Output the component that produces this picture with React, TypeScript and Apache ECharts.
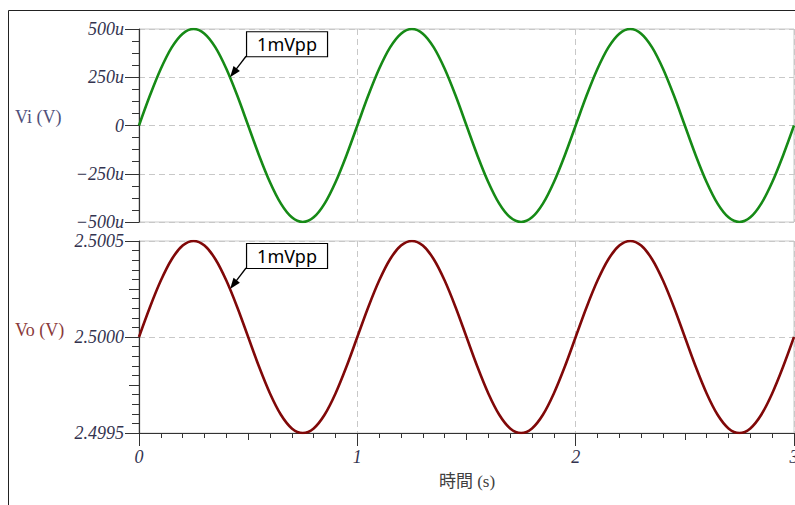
import React, { useEffect, useRef } from "react";
import * as echarts from "echarts";

// time (s)
const times = [
  0, 0.05, 0.1, 0.15, 0.2, 0.25, 0.3, 0.35, 0.4, 0.45,
  0.5, 0.55, 0.6, 0.65, 0.7, 0.75, 0.8, 0.85, 0.9, 0.95,
  1, 1.05, 1.1, 1.15, 1.2, 1.25, 1.3, 1.35, 1.4, 1.45,
  1.5, 1.55, 1.6, 1.65, 1.7, 1.75, 1.8, 1.85, 1.9, 1.95,
  2, 2.05, 2.1, 2.15, 2.2, 2.25, 2.3, 2.35, 2.4, 2.45,
  2.5, 2.55, 2.6, 2.65, 2.7, 2.75, 2.8, 2.85, 2.9, 2.95,
  3,
];

// Vi in microvolts
const viMicro = [
  0, 155, 294, 405, 476, 500, 476, 405, 294, 155,
  0, -155, -294, -405, -476, -500, -476, -405, -294, -155,
  0, 155, 294, 405, 476, 500, 476, 405, 294, 155,
  0, -155, -294, -405, -476, -500, -476, -405, -294, -155,
  0, 155, 294, 405, 476, 500, 476, 405, 294, 155,
  0, -155, -294, -405, -476, -500, -476, -405, -294, -155,
  0,
];

// Vo in volts
const voVolts = [
  2.5, 2.500155, 2.500294, 2.500405, 2.500476, 2.5005, 2.500476, 2.500405, 2.500294, 2.500155,
  2.5, 2.499845, 2.499706, 2.499595, 2.499524, 2.4995, 2.499524, 2.499595, 2.499706, 2.499845,
  2.5, 2.500155, 2.500294, 2.500405, 2.500476, 2.5005, 2.500476, 2.500405, 2.500294, 2.500155,
  2.5, 2.499845, 2.499706, 2.499595, 2.499524, 2.4995, 2.499524, 2.499595, 2.499706, 2.499845,
  2.5, 2.500155, 2.500294, 2.500405, 2.500476, 2.5005, 2.500476, 2.500405, 2.500294, 2.500155,
  2.5, 2.499845, 2.499706, 2.499595, 2.499524, 2.4995, 2.499524, 2.499595, 2.499706, 2.499845,
  2.5,
];

const xTicks = [0, 1, 2, 3];
const viTicks = [-500, -250, 0, 250, 500];
const voTicks = [2.4995, 2.5, 2.5005];

const annotationText = "1mVpp";
const viAnnotPoint = [0.417, 250];
const voAnnotPoint = [0.417, 2.50025];

const GREEN = "#168a16";
const RED = "#800808";
const GRID_GRAY = "#c8c8c8";
const AXIS = "#333333";
const LABEL = "#33334f";
const SERIF = "'Liberation Serif', 'DejaVu Serif', serif";

export default function App() {
  const ref = useRef<HTMLDivElement>(null);

  useEffect(() => {
    if (!ref.current) return;
    const chart = echarts.init(ref.current, undefined, { renderer: "svg" });

    const splitLine = {
      show: true,
      lineStyle: { color: GRID_GRAY, type: [6, 4] as any, width: 1 },
    };
    const labelFont = {
      fontFamily: SERIF,
      fontStyle: "italic" as const,
      fontSize: 18,
      color: LABEL,
    };

    const option: any = {
      animation: false,
      backgroundColor: "#ffffff",
      grid: [
        {
          left: 139, top: 29, width: 655, height: 193,
          show: true, borderColor: GRID_GRAY, borderWidth: 1,
          outerBoundsMode: "none", containLabel: false,
        },
        {
          left: 139, top: 241, width: 655, height: 192,
          show: true, borderColor: GRID_GRAY, borderWidth: 1,
          outerBoundsMode: "none", containLabel: false,
        },
      ],
      xAxis: [
        {
          type: "value", gridIndex: 0, position: "bottom",
          min: xTicks[0], max: xTicks[xTicks.length - 1], interval: 1,
          axisLine: { show: false }, axisTick: { show: false }, axisLabel: { show: false },
          splitLine,
        },
        {
          type: "value", gridIndex: 1, position: "bottom",
          min: xTicks[0], max: xTicks[xTicks.length - 1], interval: 1,
          axisLine: { show: true, onZero: false, lineStyle: { color: AXIS, width: 1.2 } },
          axisTick: { show: true, length: 13, lineStyle: { color: AXIS } },
          minorTick: { show: true, splitNumber: 10, length: 5, lineStyle: { color: AXIS } },
          axisLabel: { ...labelFont, margin: 15, formatter: (v: number) => String(v) },
          splitLine,
          z: 5,
        },
        {
          type: "value", gridIndex: 1, position: "bottom",
          min: xTicks[0], max: xTicks[xTicks.length - 1], interval: 0.5,
          axisLine: { show: false, onZero: false },
          axisTick: { show: true, length: 7, lineStyle: { color: AXIS } },
          axisLabel: { show: false }, splitLine: { show: false },
        },
      ],
      yAxis: [
        {
          type: "value", gridIndex: 0, position: "left",
          min: viTicks[0], max: viTicks[viTicks.length - 1], interval: 250,
          axisLine: { show: true, onZero: false, lineStyle: { color: AXIS, width: 1.2 } },
          axisTick: { show: true, length: 14, lineStyle: { color: AXIS } },
          minorTick: { show: true, splitNumber: 4, length: 7, lineStyle: { color: AXIS } },
          axisLabel: {
            ...labelFont, margin: 15,
            formatter: (v: number) =>
              v === 0 ? "0" : (v < 0 ? "\u2212" + String(-v) : String(v)) + "u",
          },
          splitLine,
          z: 5,
        },
        {
          type: "value", gridIndex: 1, position: "left",
          min: voTicks[0], max: voTicks[voTicks.length - 1], interval: 0.0005,
          axisLine: { show: true, onZero: false, lineStyle: { color: AXIS, width: 1.2 } },
          axisTick: { show: true, length: 14, lineStyle: { color: AXIS } },
          minorTick: { show: true, splitNumber: 10, length: 7, lineStyle: { color: AXIS } },
          axisLabel: { ...labelFont, margin: 15, formatter: (v: number) => v.toFixed(4) },
          splitLine,
          z: 5,
        },
        {
          type: "value", gridIndex: 1, position: "left",
          min: voTicks[0], max: voTicks[voTicks.length - 1], interval: 0.00025,
          axisLine: { show: false, onZero: false },
          axisTick: { show: true, length: 10, lineStyle: { color: AXIS } },
          axisLabel: { show: false }, splitLine: { show: false },
        },
      ],
      series: [
        {
          type: "line", name: "Vi", xAxisIndex: 0, yAxisIndex: 0,
          data: times.map((t, i) => [t, viMicro[i]]),
          showSymbol: false, smooth: 0.35,
          lineStyle: { color: GREEN, width: 2.6 },
          z: 10,
        },
        {
          type: "line", name: "Vo", xAxisIndex: 1, yAxisIndex: 1,
          data: times.map((t, i) => [t, voVolts[i]]),
          showSymbol: false, smooth: 0.35,
          lineStyle: { color: RED, width: 2.6 },
          z: 10,
        },
      ],
    };

    chart.setOption(option);

    const makeAnnot = (p: number[]) => {
      const dx = 16, dy = -21;
      const bx = p[0] + dx, by = p[1] + dy;
      const len = Math.hypot(dx, dy);
      const ux = dx / len, uy = dy / len;
      const nx = -uy, ny = ux;
      const hl = 11, hw = 4;
      return [
        {
          type: "line", z: 20,
          shape: { x1: bx, y1: by, x2: p[0] + ux * 8, y2: p[1] + uy * 8 },
          style: { stroke: "#000", lineWidth: 1.3 },
        },
        {
          type: "polygon", z: 20,
          shape: {
            points: [
              [p[0], p[1]],
              [p[0] + ux * hl + nx * hw, p[1] + uy * hl + ny * hw],
              [p[0] + ux * hl - nx * hw, p[1] + uy * hl - ny * hw],
            ],
          },
          style: { fill: "#000" },
        },
        {
          type: "rect", z: 20,
          shape: { x: bx + 0.5, y: by - 25 + 0.5, width: 81, height: 25 },
          style: { fill: "#fff", stroke: "#000", lineWidth: 1.2 },
        },
        {
          type: "text", z: 21,
          x: bx + 41, y: by - 12,
          style: {
            text: annotationText, fill: "#000", fontSize: 18,
            fontFamily: "'Noto Sans', 'Liberation Sans', sans-serif",
            align: "center", verticalAlign: "middle",
          },
        },
      ];
    };

    const pVi = chart.convertToPixel({ xAxisIndex: 0, yAxisIndex: 0 } as any, viAnnotPoint) as number[];
    const pVo = chart.convertToPixel({ xAxisIndex: 1, yAxisIndex: 1 } as any, voAnnotPoint) as number[];

    chart.setOption({
      graphic: [
        {
          type: "line",
          shape: { x1: 8.5, y1: 10.5, x2: 795, y2: 10.5 },
          style: { stroke: "#222", lineWidth: 1 },
        },
        {
          type: "line",
          shape: { x1: 8.5, y1: 10.5, x2: 8.5, y2: 505 },
          style: { stroke: "#222", lineWidth: 1 },
        },
        {
          type: "text", x: 15, y: 117,
          style: {
            text: "Vi (V)", fill: "#50507a", fontSize: 18, fontFamily: SERIF,
            align: "left", verticalAlign: "middle",
          },
        },
        {
          type: "text", x: 15, y: 330,
          style: {
            text: "Vo (V)", fill: "#8a3a3a", fontSize: 18, fontFamily: SERIF,
            align: "left", verticalAlign: "middle",
          },
        },
        {
          type: "text", x: 467, y: 481,
          style: {
            text: "時間 (s)", fill: "#404040", fontSize: 17,
            fontFamily: "'Liberation Serif', 'Noto Sans CJK JP', serif",
            align: "center", verticalAlign: "middle",
          },
        },
        ...makeAnnot(pVi),
        ...makeAnnot(pVo),
      ],
    });

    return () => chart.dispose();
  }, []);

  return (
    <div
      ref={ref}
      style={{ position: "fixed", left: 0, top: 0, width: 795, height: 505 }}
    />
  );
}
